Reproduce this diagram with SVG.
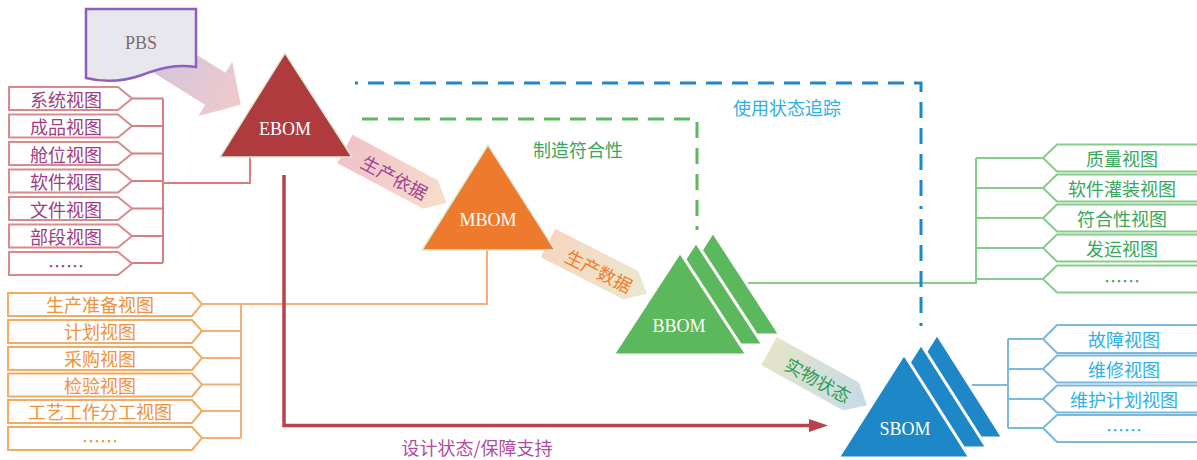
<svg xmlns="http://www.w3.org/2000/svg" width="1197" height="460" viewBox="0 0 1197 460">
<style>
.cn{font-family:"Noto Sans CJK SC","Liberation Sans",sans-serif;font-size:18px;text-anchor:middle;dominant-baseline:central}
.lat{font-family:"Liberation Serif",serif;font-size:18px;text-anchor:middle;dominant-baseline:central;fill:#fff}
.pk{fill:#fff;stroke:#d98a8a;stroke-width:2}
.pkt{fill:#9e3d82}
.og{fill:#fff;stroke:#f3aa62;stroke-width:2}
.ogt{fill:#f0913c}
.gr{fill:#fff;stroke:#86cc8a;stroke-width:2}
.grt{fill:#3aa85c}
.bl{fill:#fff;stroke:#7ab8dc;stroke-width:2}
.blt{fill:#2fb0e6}
.ln{fill:none;stroke-width:2}
</style>
<defs>
<linearGradient id="gPbs" x1="0" y1="0" x2="1" y2="0"><stop offset="0" stop-color="#cdc6dc"/><stop offset="1" stop-color="#f2c9cc"/></linearGradient>
<linearGradient id="g1" x1="0" y1="0" x2="1" y2="0"><stop offset="0" stop-color="#f0c2ca"/><stop offset="1" stop-color="#f6dfcb"/></linearGradient>
<linearGradient id="g2" x1="0" y1="0" x2="1" y2="0"><stop offset="0" stop-color="#f8d6bf"/><stop offset="1" stop-color="#eae8cf"/></linearGradient>
<linearGradient id="g3" x1="0" y1="0" x2="1" y2="0"><stop offset="0" stop-color="#e4e4c8"/><stop offset="1" stop-color="#c6dbe8"/></linearGradient>
</defs>

<g id="connectors">
  <g stroke="#d97f7f" class="ln">
    <path d="M132,98.5H163M132,126H163M132,153.5H163M132,181H163M132,208.5H163M132,236H163M132,263H163M163,98.5V263M163,183H250V157"/>
  </g>
  <g stroke="#f3b077" class="ln">
    <path d="M202,304H241M202,331H241M202,358H241M202,384.5H241M202,411H241M202,438H241M241,304V438M241,304H487V250"/>
  </g>
  <g stroke="#86cc8a" class="ln">
    <path d="M748,283H976V158M976,158H1043M976,188H1043M976,218H1043M976,248H1043M976,279H1043"/>
  </g>
  <g stroke="#7ab8dc" class="ln">
    <path d="M972,385H1008M1008,339V428M1008,339H1043M1008,369H1043M1008,399H1043M1008,428H1043"/>
  </g>
  <path d="M362,119H697V230" fill="none" stroke="#5cb85f" stroke-width="3" stroke-dasharray="16,10"/>
  <path d="M355,83H921V326" fill="none" stroke="#1f87c9" stroke-width="3" stroke-dasharray="3,10,16,10,16,10,16,10,16,10,16,10,16,10,16,10,16,10,16,10,16,10,16,10,16,10,16,10,16,10,16,10,16,10,16,10,16,10,16,10,16,10,16,10,16,10,16,10,16,10,16,10,16,10"/>
  <path d="M284,175V425.5H812" fill="none" stroke="#b8434a" stroke-width="3.5"/>
  <polygon points="809,419 828,425.5 809,432" fill="#b8434a"/>
  <polygon transform="translate(150,48) rotate(32)" points="0,-19 77,-19 77,-32 107,0 77,32 77,19 0,19" fill="url(#gPbs)"/>
  <g transform="translate(345,149) rotate(28)">
    <polygon points="0,-16 97,-16 115,0 97,16 0,16" fill="url(#g1)"/>
    <text class="cn" x="57" y="1" fill="#a34592">生产依据</text>
  </g>
  <g transform="translate(548,243) rotate(27)">
    <polygon points="0,-16 93,-16 111,0 93,16 0,16" fill="url(#g2)"/>
    <text class="cn" x="58" y="1" fill="#f07e2c">生产数据</text>
  </g>
  <g transform="translate(769,351) rotate(29)">
    <polygon points="0,-16 94,-16 112,0 94,16 0,16" fill="url(#g3)"/>
    <text class="cn" x="57" y="1" fill="#2f9e52">实物状态</text>
  </g>
</g>

<g id="labels">
  <text class="cn" x="578" y="149" fill="#3aa85c">制造符合性</text>
  <text class="cn" x="787" y="107" fill="#2fb0e6">使用状态追踪</text>
  <text class="cn" x="477" y="447" fill="#b04c9e">设计状态/保障支持</text>
</g>

<g id="pbs">
  <path d="M86,9H196V67C176,64 160,68 142,75C122,82 102,82 86,78Z" fill="#e9e7ee" stroke="#8e5fc0" stroke-width="2.5"/>
  <text x="141" y="43" font-family="Liberation Serif,serif" font-size="18" text-anchor="middle" dominant-baseline="central" fill="#7b6e6e">PBS</text>
</g>

<g id="ebom">
  <polygon points="285,53 220,157 352,157" fill="#b03b3f" stroke="#dcebd3" stroke-width="1.5"/>
  <text class="lat" x="285" y="129">EBOM</text>
</g>

<g id="mbom">
  <polygon points="488,145 422,250 555,250" fill="#ee7a2d" stroke="#dcebd3" stroke-width="1.5"/>
  <text class="lat" x="488" y="220">MBOM</text>
</g>

<g id="bbom">
  <polygon points="713,232 646,335 780,335" fill="#5cb85c" stroke="#fff" stroke-width="3"/>
  <polygon points="696,242 629,345 763,345" fill="#5cb85c" stroke="#fff" stroke-width="3"/>
  <polygon points="680,252 613,355 747,355" fill="#5cb85c" stroke="#fff" stroke-width="3"/>
  <text class="lat" x="679" y="326">BBOM</text>
</g>

<g id="sbom">
  <polygon points="937,334 871,438 1003,438" fill="#1e87c8" stroke="#fff" stroke-width="3"/>
  <polygon points="921,344 855,448 987,448" fill="#1e87c8" stroke="#fff" stroke-width="3"/>
  <polygon points="904,354 838,458 970,458" fill="#1e87c8" stroke="#fff" stroke-width="3"/>
  <text class="lat" x="905" y="429">SBOM</text>
</g>

<g id="ebom-views">
  <g id="v-xitong"><polygon class="pk" points="9,87 118,87 132,98.5 118,110 9,110"/><text class="cn pkt" x="66" y="98.5">系统视图</text></g>
  <g id="v-chengpin"><polygon class="pk" points="9,114.5 118,114.5 132,126 118,137.5 9,137.5"/><text class="cn pkt" x="66" y="126">成品视图</text></g>
  <g id="v-cangwei"><polygon class="pk" points="9,142 118,142 132,153.5 118,165 9,165"/><text class="cn pkt" x="66" y="153.5">舱位视图</text></g>
  <g id="v-ruanjian"><polygon class="pk" points="9,169.5 118,169.5 132,181 118,192.5 9,192.5"/><text class="cn pkt" x="66" y="181">软件视图</text></g>
  <g id="v-wenjian"><polygon class="pk" points="9,197 118,197 132,208.5 118,220 9,220"/><text class="cn pkt" x="66" y="208.5">文件视图</text></g>
  <g id="v-buduan"><polygon class="pk" points="9,224.5 118,224.5 132,236 118,247.5 9,247.5"/><text class="cn pkt" x="66" y="236">部段视图</text></g>
  <g id="v-more1"><polygon class="pk" points="9,252 118,252 132,263.5 118,275 9,275"/><text class="cn pkt" x="66" y="265">……</text></g>
</g>

<g id="mbom-views">
  <g id="v-scbz"><polygon class="og" points="8,293 192,293 202,304 192,316 8,316"/><text class="cn ogt" x="100" y="304">生产准备视图</text></g>
  <g id="v-jihua"><polygon class="og" points="8,320 192,320 202,331 192,343 8,343"/><text class="cn ogt" x="100" y="331">计划视图</text></g>
  <g id="v-caigou"><polygon class="og" points="8,347 192,347 202,358 192,370 8,370"/><text class="cn ogt" x="100" y="358">采购视图</text></g>
  <g id="v-jianyan"><polygon class="og" points="8,373.5 192,373.5 202,384.5 192,396.5 8,396.5"/><text class="cn ogt" x="100" y="384.5">检验视图</text></g>
  <g id="v-gongyi"><polygon class="og" points="8,400 192,400 202,411 192,423 8,423"/><text class="cn ogt" x="100" y="411">工艺工作分工视图</text></g>
  <g id="v-more2"><polygon class="og" points="8,427 192,427 202,438 192,450 8,450"/><text class="cn ogt" x="100" y="440">……</text></g>
</g>

<g id="bbom-views">
  <g id="v-zhiliang"><polygon class="gr" points="1043,158 1057,144.5 1205,144.5 1205,171.5 1057,171.5"/><text class="cn grt" x="1122" y="158">质量视图</text></g>
  <g id="v-guanzhuang"><polygon class="gr" points="1043,188 1057,174.5 1205,174.5 1205,201.5 1057,201.5"/><text class="cn grt" x="1122" y="188">软件灌装视图</text></g>
  <g id="v-fuhe"><polygon class="gr" points="1043,218 1057,204.5 1205,204.5 1205,231.5 1057,231.5"/><text class="cn grt" x="1122" y="218">符合性视图</text></g>
  <g id="v-fayun"><polygon class="gr" points="1043,248 1057,234.5 1205,234.5 1205,261.5 1057,261.5"/><text class="cn grt" x="1122" y="248">发运视图</text></g>
  <g id="v-more3"><polygon class="gr" points="1043,279 1057,265.5 1205,265.5 1205,292.5 1057,292.5"/><text class="cn grt" x="1122" y="280">……</text></g>
</g>

<g id="sbom-views">
  <g id="v-guzhang"><polygon class="bl" points="1043,339 1057,325 1205,325 1205,353 1057,353"/><text class="cn blt" x="1124" y="339">故障视图</text></g>
  <g id="v-weixiu"><polygon class="bl" points="1043,369 1057,355.5 1205,355.5 1205,382.5 1057,382.5"/><text class="cn blt" x="1124" y="369">维修视图</text></g>
  <g id="v-weihu"><polygon class="bl" points="1043,399 1057,385.5 1205,385.5 1205,412.5 1057,412.5"/><text class="cn blt" x="1124" y="399">维护计划视图</text></g>
  <g id="v-more4"><polygon class="bl" points="1043,428 1057,415 1205,415 1205,442 1057,442"/><text class="cn blt" x="1124" y="429">……</text></g>
</g>
</svg>
